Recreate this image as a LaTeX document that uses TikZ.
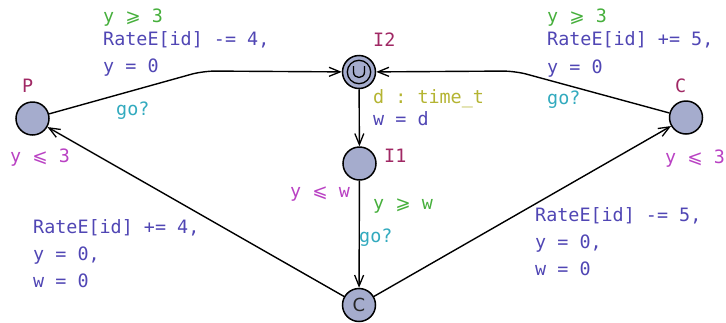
\documentclass[tikz,border=0pt]{standalone}
\usepackage{fontspec}
\setmonofont{DejaVu Sans Mono}
\setsansfont{DejaVu Sans}
\newfontfamily\symfnt{DejaVu Sans}
\newcommand\mylesl{{\symfnt ⩽}}
\newcommand\mygesl{{\symfnt ⩾}}
\usetikzlibrary{arrows.meta}
\definecolor{locfill}{RGB}{165,172,205}
\definecolor{namec}{RGB}{160,40,100}
\definecolor{invc}{RGB}{185,65,195}
\definecolor{guardc}{RGB}{70,175,60}
\definecolor{updc}{RGB}{80,70,180}
\definecolor{syncc}{RGB}{50,170,190}
\definecolor{selc}{RGB}{180,180,50}
\begin{document}
\begin{tikzpicture}[x=1pt,y=-1pt,
  loc/.style={circle, draw, fill=locfill, minimum size=33pt, inner sep=0pt, line width=1.5pt},
  edge/.style={draw, line width=1.4pt, -{Straight Barb[length=11pt,width=9pt,line width=1.3pt]}},
  lbl/.style={anchor=base west, inner sep=0pt, font=\ttfamily\fontsize{18.4}{22}\selectfont},
  nm/.style={lbl, text=namec},
  inv/.style={lbl, text=invc},
  grd/.style={lbl, text=guardc},
  upd/.style={lbl, text=updc},
  syn/.style={lbl, text=syncc},
  sel/.style={lbl, text=selc}]
\useasboundingbox (0,0) rectangle (726,322);
% locations
\node[loc] (P) at (32.5,118.5) {};
\node[loc] (C) at (686,117.5) {};
\node[loc] (I2) at (359,72) {};
\node[loc] (I1) at (359.5,163.5) {};
\node[loc, font=\sffamily\fontsize{18}{18}\selectfont, text=black!85] (B) at (359,305) {C};
\draw[line width=1.3pt] (I2.center) circle[radius=11.7pt];
\draw[line width=1.3pt] (353.5,66) -- (353.5,72) .. controls (353.5,79.3) and (364.5,79.3) .. (364.5,72) -- (364.5,66);
% edges
\coordinate (n1) at (203,71);
\coordinate (n2) at (515,71);
\draw[edge, rounded corners=12pt] (P) -- (n1) -- (I2);
\draw[edge, rounded corners=12pt] (C) -- (n2) -- (I2);
\draw[edge] (I2) -- (I1);
\draw[edge] (I1) -- (B);
\draw[edge] (B) -- (P);
\draw[edge] (B) -- (C);
% names
\node[nm] (tP) at (22,92) {P};
\node[nm] (tC) at (675,92) {C};
\node[nm] (tI2) at (373,46) {I2};
\node[nm] (tI1) at (384,162) {I1};
% invariants
\node[inv] (iP) at (10,162) {y \mylesl{} 3};
\node[inv] (iC) at (665,163) {y \mylesl{} 3};
\node[inv] (iI1) at (290,197) {y \mylesl{} w};
% P -> I2
\node[grd] (g1) at (103,22) {y \mygesl{} 3};
\node[upd] (u1a) at (103,45) {RateE[id] -= 4,};
\node[upd] (u1b) at (103,72) {y = 0};
\node[syn] (s1) at (116,115) {go?};
% C -> I2
\node[grd] (g2) at (547,22) {y \mygesl{} 3};
\node[upd] (u2a) at (547,45) {RateE[id] += 5,};
\node[upd] (u2b) at (547,73) {y = 0};
\node[syn] (s2) at (547,104) {go?};
% I2 -> I1
\node[sel] (sl) at (373,103) {d : time\_t};
\node[upd] (u3) at (373,125) {w = d};
% I1 -> B
\node[grd] (g3) at (373,209) {y \mygesl{} w};
\node[syn] (s3) at (359,242) {go?};
% B -> P
\node[upd] (u4a) at (33,233) {RateE[id] += 4,};
\node[upd] (u4b) at (33,260) {y = 0,};
\node[upd] (u4c) at (33,287) {w = 0};
% B -> C
\node[upd] (u5a) at (535,221) {RateE[id] -= 5,};
\node[upd] (u5b) at (535,248) {y = 0,};
\node[upd] (u5c) at (535,275) {w = 0};
\end{tikzpicture}
\end{document}
